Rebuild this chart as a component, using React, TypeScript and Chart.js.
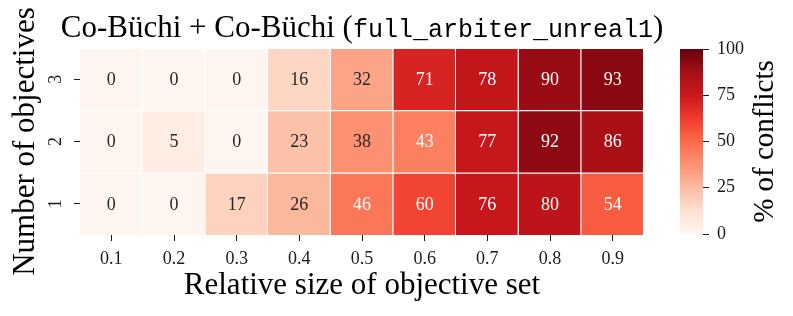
import React, { useEffect, useRef } from 'react';
import { Chart, registerables } from 'chart.js';

Chart.register(...registerables);

// ---- data ----
const xLabels = ['0.1', '0.2', '0.3', '0.4', '0.5', '0.6', '0.7', '0.8', '0.9'];
const yLabels = ['1', '2', '3'];
const row1 = [0, 0, 17, 26, 46, 60, 76, 80, 54];
const row2 = [0, 5, 0, 23, 38, 43, 77, 92, 86];
const row3 = [0, 0, 0, 16, 32, 71, 78, 90, 93];
const rows = [row1, row2, row3];
const cbTicks = [0, 25, 50, 75, 100];
const cbMin = 0;
const cbMax = 100;
const titleMain = 'Co-Büchi + Co-Büchi (';
const titleCode = 'full_arbiter_unreal1';
const titleEnd = ')';
const xTitle = 'Relative size of objective set';
const yTitle = 'Number of objectives';
const cbTitle = '% of conflicts';

// ---- style ----
const SERIF = '"Liberation Serif", "Times New Roman", serif';
const MONO = '"Liberation Mono", "DejaVu Sans Mono", monospace';
const INK = '#1a1a1a';
const REDS: number[][] = [
  [255, 245, 240], [254, 224, 210], [252, 187, 161], [252, 146, 114], [251, 106, 74],
  [239, 59, 44], [203, 24, 29], [165, 15, 21], [103, 0, 13],
];

function reds(t: number): number[] {
  const c = Math.max(0, Math.min(1, t)) * (REDS.length - 1);
  const i = Math.min(REDS.length - 2, Math.floor(c));
  const f = c - i;
  return REDS[i].map((v, k) => v + (REDS[i + 1][k] - v) * f);
}
function css(rgb: number[]): string {
  return `rgb(${rgb.map((v) => Math.round(v)).join(',')})`;
}
function textColorFor(v: number): string {
  const rgb = reds((v - cbMin) / (cbMax - cbMin)).map((x) => x / 255);
  const lin = rgb.map((c) => (c <= 0.03928 ? c / 12.92 : Math.pow((c + 0.055) / 1.055, 2.4)));
  const lum = 0.2126 * lin[0] + 0.7152 * lin[1] + 0.0722 * lin[2];
  return lum > 0.408 ? '#262626' : '#ffffff';
}

export default function App() {
  const mainRef = useRef<HTMLCanvasElement>(null);
  const cbRef = useRef<HTMLCanvasElement>(null);

  useEffect(() => {
    const annotate = {
      id: 'annotate',
      afterDatasetsDraw(chart: any) {
        const ctx = chart.ctx;
        ctx.save();
        ctx.font = `18px ${SERIF}`;
        ctx.textAlign = 'center';
        ctx.textBaseline = 'middle';
        chart.data.datasets.forEach((_: any, i: number) => {
          const meta = chart.getDatasetMeta(i);
          meta.data.forEach((bar: any, j: number) => {
            const v = rows[i][j];
            const { x, y, base } = bar.getProps(['x', 'y', 'base'], true);
            ctx.fillStyle = textColorFor(v);
            ctx.fillText(String(v), x, (y + base) / 2 + 1);
          });
        });
        ctx.restore();
      },
    };
    const mainTitle = {
      id: 'mainTitle',
      afterDraw(chart: any) {
        const ctx = chart.ctx;
        const area = chart.chartArea;
        ctx.save();
        ctx.textBaseline = 'alphabetic';
        ctx.textAlign = 'left';
        ctx.fillStyle = '#000';
        const f1 = `31px ${SERIF}`;
        const f2 = `25px ${MONO}`;
        ctx.font = f1;
        const w1 = ctx.measureText(titleMain).width;
        const w3 = ctx.measureText(titleEnd).width;
        ctx.font = f2;
        const w2 = ctx.measureText(titleCode).width;
        let x = (area.left + area.right) / 2 - (w1 + w2 + w3) / 2;
        const yb = 37;
        ctx.font = f1;
        ctx.fillText(titleMain, x, yb);
        x += w1;
        ctx.font = f2;
        ctx.fillText(titleCode, x, yb);
        x += w2;
        ctx.font = f1;
        ctx.fillText(titleEnd, x, yb);
        ctx.restore();
      },
    };

    const main = new Chart(mainRef.current as HTMLCanvasElement, {
      type: 'bar',
      data: {
        labels: xLabels,
        datasets: rows.map((vals, r) => ({
          label: yLabels[r],
          data: vals.map(() => [r + 0.5, r + 1.5]),
          backgroundColor: vals.map((v) => css(reds((v - cbMin) / (cbMax - cbMin)))),
          borderColor: '#ffffff',
          borderWidth: { top: 1, right: 1, bottom: 0, left: 0 },
          borderSkipped: false,
          barPercentage: 1,
          categoryPercentage: 1,
          grouped: false,
          inflateAmount: 0,
        })),
      } as any,
      options: {
        responsive: false,
        animation: false,
        layout: { padding: { left: 0, top: 48, right: 149, bottom: 0 } },
        plugins: { legend: { display: false }, tooltip: { enabled: false }, title: { display: false } },
        scales: {
          x: {
            type: 'category',
            offset: true,
            border: { display: false },
            grid: { display: true, drawOnChartArea: false, offset: false, tickLength: 6, color: INK, lineWidth: 1 },
            ticks: { font: { family: SERIF, size: 18 }, color: INK, padding: 7, maxRotation: 0, minRotation: 0, autoSkip: false },
            title: { display: true, text: xTitle, font: { family: SERIF, size: 31 }, color: '#000', padding: { top: 0, bottom: 12 } },
            afterFit: (s: any) => { s.height = 81; },
          },
          y: {
            type: 'linear',
            min: 0.5,
            max: 3.5,
            border: { display: false },
            afterBuildTicks: (s: any) => { s.ticks = yLabels.map((_, i) => ({ value: i + 1 })); },
            grid: { display: true, drawOnChartArea: false, tickLength: 6, color: INK, lineWidth: 1 },
            ticks: {
              font: { family: SERIF, size: 18 }, color: INK, padding: 13,
              minRotation: 90, maxRotation: 90, crossAlign: 'center',
              callback: (v: any) => yLabels[Math.round(Number(v)) - 1] ?? '',
            },
            title: { display: true, text: yTitle, font: { family: SERIF, size: 31 }, color: '#000', padding: { top: 7, bottom: 0 } },
            afterFit: (s: any) => { s.width = 80; },
          },
        },
      } as any,
      plugins: [annotate, mainTitle],
    });

    const cbTitlePlugin = {
      id: 'cbTitle',
      afterDraw(chart: any) {
        const ctx = chart.ctx;
        const area = chart.chartArea;
        ctx.save();
        ctx.translate(773, (area.top + area.bottom) / 2);
        ctx.rotate(-Math.PI / 2);
        ctx.font = `29px ${SERIF}`;
        ctx.fillStyle = '#000';
        ctx.textAlign = 'center';
        ctx.textBaseline = 'alphabetic';
        ctx.fillText(cbTitle, 0, 0);
        ctx.restore();
      },
    };

    const cb = new Chart(cbRef.current as HTMLCanvasElement, {
      type: 'bar',
      data: {
        labels: [''],
        datasets: [{
          data: [[cbMin, cbMax]],
          backgroundColor: (c: any) => {
            const chart = c.chart;
            const ys = chart.scales && chart.scales.y;
            if (!chart.chartArea || !ys) return css(REDS[4]);
            const g = chart.ctx.createLinearGradient(0, ys.getPixelForValue(cbMin), 0, ys.getPixelForValue(cbMax));
            REDS.forEach((rgb, i) => g.addColorStop(i / (REDS.length - 1), css(rgb)));
            return g;
          },
          borderWidth: 0,
          barPercentage: 1,
          categoryPercentage: 1,
          inflateAmount: 0,
        }],
      } as any,
      options: {
        responsive: false,
        animation: false,
        layout: { padding: { left: 680, top: 49, right: 30, bottom: 82 } },
        plugins: { legend: { display: false }, tooltip: { enabled: false } },
        scales: {
          x: { display: false },
          y: {
            position: 'right',
            min: cbMin,
            max: cbMax,
            border: { display: false },
            afterBuildTicks: (s: any) => { s.ticks = cbTicks.map((v) => ({ value: v })); },
            grid: { display: true, drawOnChartArea: false, tickLength: 6, color: INK, lineWidth: 1 },
            ticks: { font: { family: SERIF, size: 18 }, color: INK, padding: 8 },
            afterFit: (s: any) => { s.width = 60; },
          },
        },
      } as any,
      plugins: [cbTitlePlugin],
    });

    return () => {
      main.destroy();
      cb.destroy();
    };
  }, []);

  return (
    <div style={{ position: 'absolute', left: 0, top: 0, width: 793, height: 316, background: '#ffffff' }}>
      <canvas ref={mainRef} width={793} height={316} style={{ position: 'absolute', left: 0, top: 0 }} />
      <canvas ref={cbRef} width={793} height={316} style={{ position: 'absolute', left: 0, top: 0 }} />
    </div>
  );
}
